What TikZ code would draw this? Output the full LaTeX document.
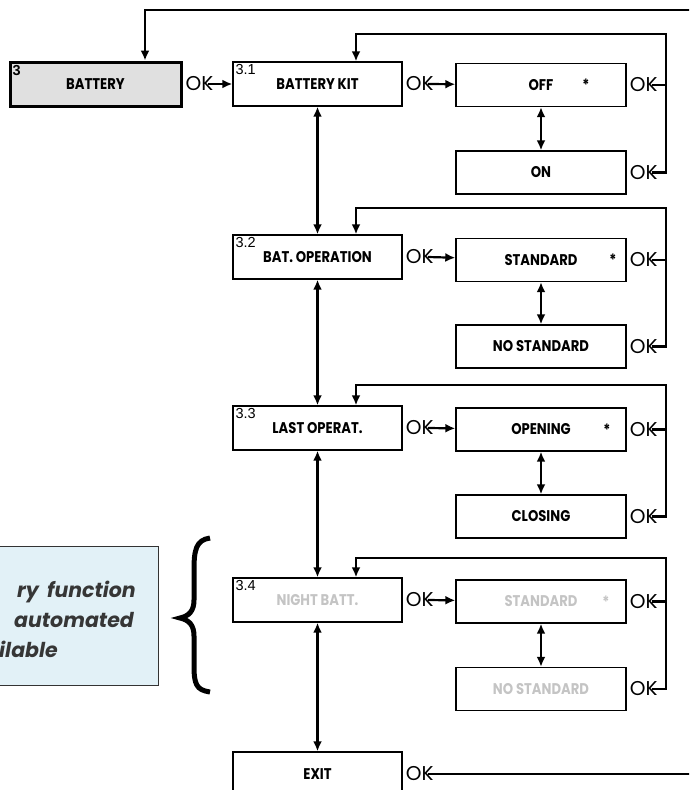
\documentclass[tikz,border=0pt]{standalone}
\usepackage{fontspec}
\usepackage{xcolor}
\usepackage{tikz}
\usetikzlibrary{arrows.meta,positioning}

\newfontfamily\lblfont{Poppins}[FakeStretch=0.85]
\newfontfamily\okfont{Poppins}
\newfontfamily\numfont{Liberation Sans}
\definecolor{offgray}{HTML}{C4C4C4}
\definecolor{notefill}{HTML}{E2F1F7}
\definecolor{notetext}{HTML}{363636}

\begin{document}
\begin{tikzpicture}[
  x=1pt,y=-1pt,
  menu/.style={draw,line width=1.4pt,minimum width=169pt,minimum height=44pt,inner sep=0pt,font=\lblfont\bfseries\fontsize{15.5}{17}\selectfont},
  choice/.style={menu,minimum width=170pt,minimum height=43pt},
  muted/.style={text=offgray},
  numtag/.style={anchor=north west,inner sep=0pt,font=\numfont\fontsize{14.5}{15}\selectfont},
  oktag/.style={anchor=west,inner sep=0pt,font=\okfont\fontsize{20}{21}\selectfont},
  star/.style={inner sep=0pt,font=\lblfont\bfseries\fontsize{15.5}{17}\selectfont},
  notetxt/.style={inner sep=0pt,text=notetext,font=\okfont\bfseries\itshape\fontsize{20.5}{23}\selectfont},
  link/.style={line width=2.2pt},
  arrow/.style={link,-{Latex[length=10pt,width=9pt]}},
  both/.style={link,{Latex[length=10pt,width=9pt]}-{Latex[length=10pt,width=9pt]}}
]
\useasboundingbox (0,0) rectangle (689,790);
\clip (0,0) rectangle (689,790);

% main menu column
\node[menu,line width=3pt,fill=black!12,minimum width=171pt] (bat) at (95.5,84) {BATTERY};
\node[menu] (kit) at (317.5,84) {BATTERY KIT};
\node[menu] (oper) at (317.5,257) {BAT. OPERATION};
\node[menu] (last) at (317.5,428) {LAST OPERAT.};
\node[menu,muted] (night) at (317.5,600) {NIGHT BATT.};
\node[menu] (exit) at (317.5,774) {EXIT};

\node[numtag,font=\numfont\bfseries\fontsize{14.5}{15}\selectfont] at ([shift={(4pt,-5pt)}]bat.north west) {3};
\node[numtag] at ([shift={(3pt,-3pt)}]kit.north west) {3.1};
\node[numtag] at ([shift={(3pt,-3pt)}]oper.north west) {3.2};
\node[numtag] at ([shift={(3pt,-3pt)}]last.north west) {3.3};
\node[numtag] at ([shift={(3pt,-3pt)}]night.north west) {3.4};

% choices
\node[choice] (off) at (541,85) {OFF};
\node[choice] (on) at (541,172.5) {ON};
\node[choice] (std) at (541,260) {STANDARD};
\node[choice] (nostd) at (541,346.5) {NO STANDARD};
\node[choice] (open) at (541,429.5) {OPENING};
\node[choice] (close) at (541,516.5) {CLOSING};
\node[choice,muted] (nstd) at (541,601.5) {STANDARD};
\node[choice,muted] (nnostd) at (541,689) {NO STANDARD};

\node[star] at (586,85) {*};
\node[star] at (613,260) {*};
\node[star] at (607,429.5) {*};
\node[star,muted] at (606,601.5) {*};

% OK keys
\foreach \b in {bat,kit,oper,last,night,exit,off,on,std,nostd,open,close,nstd,nnostd}
  \node[oktag,right=3pt of \b] (\b ok) {OK};

% return points
\coordinate (ret1) at (666,34);
\coordinate (ret2) at (666,208);
\coordinate (ret3) at (666,385);
\coordinate (ret4) at (666,558);
\coordinate (topr) at (700,10);

\foreach \a/\b in {batok/kit,kitok/off,operok/std,lastok/open,nightok/nstd}
  \draw[arrow] ([xshift=-6pt]\a.east) -- (\b);

\foreach \a/\b in {kit/oper,oper/last,last/night,night/exit,off/on,std/nostd,open/close,nstd/nnostd}
  \draw[both] (\a) -- (\b);

\foreach \a/\b/\r in {off/kit/ret1,std/oper/ret2,open/last/ret3,nstd/night/ret4}
  \draw[arrow] ([xshift=-6pt]\a ok.east) -| (\r) -| ([xshift=38.5pt]\b.north);
\foreach \a/\r in {on/ret1,nostd/ret2,close/ret3,nnostd/ret4}
  \draw[link] ([xshift=-6pt]\a ok.east) -| (\r);

\draw[arrow] ([xshift=-6pt]exitok.east) -| (topr) -| ([xshift=49.5pt]bat.north);

% note on the left
\node[draw=black!80,line width=1.4pt,fill=notefill,minimum width=166pt,minimum height=139pt,anchor=north east] (note) at (159,546) {};
\node[notetxt,anchor=base west] (nl1) at (17,597) {ry};
\node[notetxt,anchor=base east] (nl2) at (136,597) {function};
\node[notetxt,anchor=base east] (nl3) at (134,627) {automated};
\node[notetxt,anchor=base west] (nl4) at (-1,657) {ilable};
\draw[line width=5pt] (210,538) .. controls (196,540) and (194,550) .. (194,570) -- (194,600)
  .. controls (194,611) and (189,616) .. (180,618) .. controls (189,620) and (194,625) .. (194,636)
  -- (194,665) .. controls (194,684) and (196,690) .. (210,692);
\end{tikzpicture}
\end{document}
